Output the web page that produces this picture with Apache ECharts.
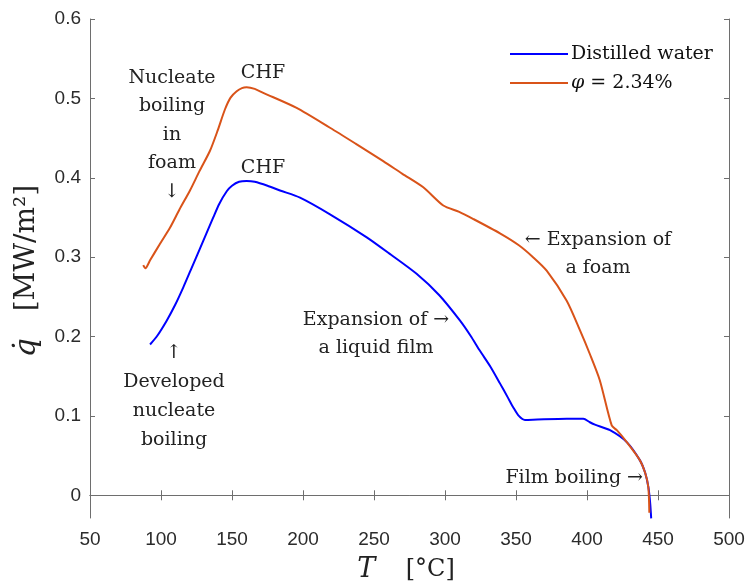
<!DOCTYPE html>
<html><head><meta charset="utf-8">
<script src="https://cdn.jsdelivr.net/npm/echarts@6/dist/echarts.min.js"></script>
<style>html,body{margin:0;padding:0;background:#fff}#c{width:748px;height:586px}</style>
</head><body><div id="c"></div>
<script>
// Distilled water
const waterT = [92.3, 97, 104, 110, 115.7, 121, 127.5, 132, 136.8, 141, 146.3, 150, 155, 160.3, 166, 175, 183.8, 197.9, 219, 244.9, 262, 280, 296, 310.6, 318, 324.6, 332, 338.7, 344, 348, 352, 356.3, 365, 385.7, 397.4, 402, 405.6, 416.2, 428, 437.3, 441, 443.2, 444.5, 445.2];
const waterQ = [0.190, 0.200, 0.220, 0.240, 0.262, 0.284, 0.311, 0.330, 0.350, 0.367, 0.383, 0.390, 0.395, 0.396, 0.395, 0.390, 0.384, 0.375, 0.354, 0.325, 0.303, 0.279, 0.252, 0.220, 0.201, 0.182, 0.162, 0.141, 0.124, 0.111, 0.100, 0.095, 0.0955, 0.0964, 0.0964, 0.092, 0.089, 0.082, 0.067, 0.044, 0.028, 0.0105, -0.010, -0.029];
// phi = 2.34 %
const foamT = [87.5, 89, 92.3, 99, 106.3, 113, 120.4, 127, 134.5, 140, 145, 149, 153.3, 157, 160.3, 166, 172, 195.5, 219, 237, 256.5, 270, 284.7, 298.8, 310, 320, 338.7, 352, 362, 371.6, 385.7, 395, 402, 409, 417.4, 421, 428, 437.3, 441, 443.2, 443.9];
const foamQ = [0.290, 0.286, 0.296, 0.316, 0.337, 0.360, 0.384, 0.408, 0.434, 0.460, 0.486, 0.501, 0.509, 0.513, 0.514, 0.512, 0.507, 0.488, 0.463, 0.443, 0.421, 0.405, 0.388, 0.365, 0.357, 0.348, 0.330, 0.315, 0.300, 0.283, 0.245, 0.208, 0.178, 0.145, 0.088, 0.082, 0.067, 0.044, 0.028, 0.010, -0.022];
const xTicks = [50, 100, 150, 200, 250, 300, 350, 400, 450, 500];
const yTicks = [0, 0.1, 0.2, 0.3, 0.4, 0.5, 0.6];
const seriesNames = ['Distilled water', 'φ = 2.34%'];

const pairs = (xs, ys) => xs.map((x, i) => [x, ys[i]]);
const axisCol = '#6e6e6e';
const labCol = '#2b2b2b';
const serif = 'DejaVu Serif';

const chart = echarts.init(document.getElementById('c'), null, {renderer: 'canvas'});
const xBase = {
  type: 'value', min: xTicks[0], max: xTicks[xTicks.length - 1], interval: 50,
  axisLine: {show: true, lineStyle: {color: axisCol, width: 1}},
  axisTick: {show: true, inside: true, length: 5, lineStyle: {color: axisCol}},
  splitLine: {show: false}
};
const yBase = {
  type: 'value', min: -0.0286, max: 0.6,
  axisLine: {show: true, onZero: false, lineStyle: {color: axisCol, width: 1}},
  axisTick: {show: true, inside: true, length: 5, customValues: yTicks, lineStyle: {color: axisCol}},
  splitLine: {show: false}
};
chart.setOption({
  animation: false,
  backgroundColor: '#fff',
  grid: {left: 90, right: 19, top: 19, bottom: 68, containLabel: false},
  xAxis: [
    Object.assign({}, xBase, {position: 'bottom',
      axisLabel: {show: true, margin: 12, color: labCol, fontFamily: 'Liberation Sans', fontSize: 19}}),
    Object.assign({}, xBase, {position: 'top', axisLabel: {show: false}})
  ],
  yAxis: [
    Object.assign({}, yBase, {position: 'left',
      axisLabel: {show: true, margin: 9, customValues: yTicks, color: labCol, fontFamily: 'Liberation Sans', fontSize: 19,
        formatter: v => String(Math.round(v * 10) / 10)}}),
    Object.assign({}, yBase, {position: 'right', axisLabel: {show: false}})
  ],
  legend: {
    orient: 'vertical', left: 505, top: 39, icon: 'rect', itemWidth: 58, itemHeight: 2, itemGap: 9,
    data: seriesNames,
    textStyle: {fontFamily: serif, fontSize: 19, lineHeight: 20, color: '#111', padding: [0, 0, 0, -2],
      rich: {i: {fontFamily: serif, fontStyle: 'italic', fontSize: 19, lineHeight: 20, color: '#111'}}},
    formatter: n => n.startsWith('φ') ? '{i|φ} = 2.34%' : n
  },
  series: [
    {name: seriesNames[0], type: 'line', xAxisIndex: 0, yAxisIndex: 0, data: pairs(waterT, waterQ),
      showSymbol: false, symbol: 'none', smooth: 0.25, clip: true,
      lineStyle: {color: '#0000ff', width: 2}, itemStyle: {color: '#0000ff'}},
    {name: seriesNames[1], type: 'line', xAxisIndex: 0, yAxisIndex: 0, data: pairs(foamT, foamQ),
      showSymbol: false, symbol: 'none', smooth: 0.25, clip: true,
      lineStyle: {color: '#d95319', width: 2}, itemStyle: {color: '#d95319'}}
  ],
  graphic: [
    {type: 'text', x: 172, y: 135, style: {text: 'Nucleate\nboiling\nin\nfoam\n↓', font: '19px "DejaVu Serif"', fill: '#222', align: 'center', verticalAlign: 'middle', lineHeight: 28.5}},
    {type: 'text', x: 263, y: 73, style: {text: 'CHF', font: '19px "DejaVu Serif"', fill: '#222', align: 'center', verticalAlign: 'middle'}},
    {type: 'text', x: 263, y: 168, style: {text: 'CHF', font: '19px "DejaVu Serif"', fill: '#222', align: 'center', verticalAlign: 'middle'}},
    {type: 'text', x: 174, y: 397, style: {text: '↑\nDeveloped\nnucleate\nboiling', font: '19px "DejaVu Serif"', fill: '#222', align: 'center', verticalAlign: 'middle', lineHeight: 29}},
    {type: 'text', x: 376, y: 334, style: {text: 'Expansion of →\na liquid film', font: '19px "DejaVu Serif"', fill: '#222', align: 'center', verticalAlign: 'middle', lineHeight: 28}},
    {type: 'text', x: 598, y: 254, style: {text: '← Expansion of\na foam', font: '19px "DejaVu Serif"', fill: '#222', align: 'center', verticalAlign: 'middle', lineHeight: 28}},
    {type: 'text', x: 643, y: 478, style: {text: 'Film boiling →', font: '19px "DejaVu Serif"', fill: '#222', align: 'right', verticalAlign: 'middle'}},
    {type: 'text', x: 406, y: 570, style: {text: '{i|T}{n|    [°C]}', align: 'center', verticalAlign: 'middle', fill: '#222',
      rich: {i: {fontFamily: serif, fontStyle: 'italic', fontSize: 27, fill: '#222'}, n: {fontFamily: serif, fontSize: 24, fill: '#222'}}}},
    {type: 'text', x: 27, y: 271, rotation: Math.PI / 2, style: {text: '{i|q̇}{n|   [MW/m²]}', align: 'center', verticalAlign: 'middle', fill: '#222',
      rich: {i: {fontFamily: serif, fontStyle: 'italic', fontSize: 30, fill: '#222'}, n: {fontFamily: serif, fontSize: 28, fill: '#222'}}}}
  ]
});
</script></body></html>
